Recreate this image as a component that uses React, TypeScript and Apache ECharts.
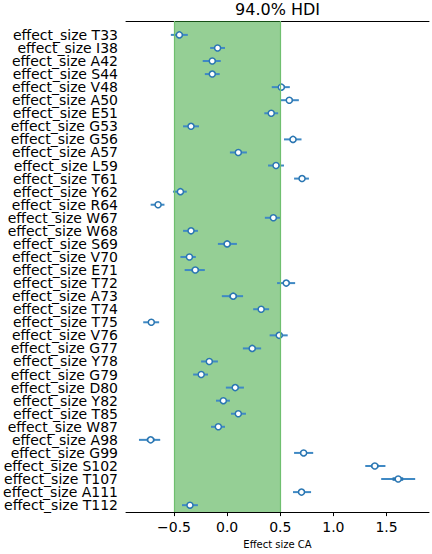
import React, { useEffect, useRef } from "react";
import * as echarts from "echarts";

const labels = [
  "effect_size T33", "effect_size I38", "effect_size A42", "effect_size S44", "effect_size V48",
  "effect_size A50", "effect_size E51", "effect_size G53", "effect_size G56", "effect_size A57",
  "effect_size L59", "effect_size T61", "effect_size Y62", "effect_size R64", "effect_size W67",
  "effect_size W68", "effect_size S69", "effect_size V70", "effect_size E71", "effect_size T72",
  "effect_size A73", "effect_size T74", "effect_size T75", "effect_size V76", "effect_size G77",
  "effect_size Y78", "effect_size G79", "effect_size D80", "effect_size Y82", "effect_size T85",
  "effect_size W87", "effect_size A98", "effect_size G99", "effect_size S102", "effect_size T107",
  "effect_size A111", "effect_size T112",
];

const means = [
  -0.45, -0.09, -0.14, -0.14, 0.51, 0.585, 0.415, -0.34, 0.62, 0.105,
  0.46, 0.705, -0.44, -0.65, 0.435, -0.34, 0.0, -0.355, -0.3, 0.556,
  0.057, 0.32, -0.714, 0.49, 0.236, -0.168, -0.244, 0.076, -0.036, 0.105,
  -0.083, -0.72, 0.72, 1.39, 1.61, 0.7, -0.35,
];

const hdiLow = [
  -0.53, -0.16, -0.23, -0.21, 0.42, 0.5, 0.35, -0.415, 0.535, 0.026,
  0.385, 0.63, -0.51, -0.72, 0.355, -0.415, -0.087, -0.44, -0.4, 0.47,
  -0.05, 0.245, -0.79, 0.4, 0.148, -0.245, -0.32, -0.012, -0.105, 0.036,
  -0.152, -0.83, 0.63, 1.3, 1.45, 0.62, -0.425,
];

const hdiHigh = [
  -0.37, -0.02, -0.06, -0.07, 0.59, 0.675, 0.48, -0.265, 0.7, 0.186,
  0.535, 0.77, -0.38, -0.59, 0.5, -0.275, 0.092, -0.295, -0.21, 0.64,
  0.15, 0.395, -0.64, 0.57, 0.32, -0.087, -0.18, 0.158, 0.026, 0.177,
  -0.02, -0.63, 0.81, 1.49, 1.77, 0.79, -0.275,
];

const q1 = [
  -0.48, -0.115, -0.17, -0.165, 0.48, 0.555, 0.39, -0.367, 0.59, 0.076,
  0.433, 0.68, -0.463, -0.673, 0.409, -0.365, -0.032, -0.381, -0.334, 0.526,
  0.021, 0.293, -0.741, 0.46, 0.205, -0.196, -0.269, 0.046, -0.06, 0.08,
  -0.107, -0.756, 0.688, 1.356, 1.557, 0.67, -0.377,
];

const q3 = [
  -0.42, -0.065, -0.11, -0.115, 0.54, 0.615, 0.44, -0.313, 0.65, 0.134,
  0.487, 0.73, -0.417, -0.627, 0.461, -0.315, 0.032, -0.329, -0.266, 0.586,
  0.093, 0.347, -0.687, 0.52, 0.267, -0.14, -0.219, 0.106, -0.012, 0.13,
  -0.059, -0.684, 0.752, 1.424, 1.657, 0.73, -0.323,
];

const xTicks = [-0.5, 0, 0.5, 1, 1.5];
const ropeLow = -0.5;
const ropeHigh = 0.5;

const FONT = "DejaVu Sans";

export default function App() {
  const ref = useRef<HTMLDivElement>(null);

  useEffect(() => {
    if (!ref.current) return;
    const chart = echarts.init(ref.current, null, { renderer: "svg" });
    const data = labels.map((_, i) => [i, means[i], hdiLow[i], hdiHigh[i], q1[i], q3[i]]);
    const evenIdx = labels.map((_, i) => i).filter((i) => i % 2 === 0);
    const oddIdx = labels.map((_, i) => i).filter((i) => i % 2 === 1);
    const xMin = -0.952;
    const xMax = 1.9;
    const yMin = -1.063;
    const yMax = 36.53;

    const yAxisFor = (vals: number[]) => ({
      type: "value",
      inverse: true,
      position: "left",
      offset: 0,
      min: yMin,
      max: yMax,
      axisLine: { show: false },
      axisTick: { show: false },
      splitLine: { show: false },
      axisLabel: {
        customValues: vals,
        showMinLabel: true,
        showMaxLabel: true,
        margin: 8,
        fontFamily: FONT,
        fontSize: 14,
        lineHeight: 13,
        color: "#000",
        formatter: (v: number) => labels[Math.round(v)] ?? "",
      },
    });

    chart.setOption({
      animation: false,
      backgroundColor: "#fff",
      title: {
        text: "94.0% HDI",
        left: 277.5,
        textAlign: "center",
        top: 1,
        padding: 0,
        textStyle: { fontFamily: FONT, fontSize: 16, fontWeight: "normal", color: "#000" },
      },
      grid: { left: 126, right: 3, top: 21, bottom: 38, containLabel: false },
      xAxis: [
        {
          type: "value",
          position: "bottom",
          min: xMin,
          max: xMax,
          name: "Effect size CA",
          nameLocation: "middle",
          nameGap: 24,
          nameTextStyle: { fontFamily: FONT, fontSize: 10, color: "#000" },
          axisLine: { show: true, onZero: false, lineStyle: { color: "#000", width: 1 } },
          axisTick: { show: true, length: 4, lineStyle: { color: "#000" }, customValues: xTicks },
          axisLabel: {
            show: true,
            customValues: xTicks,
            margin: 8,
            fontFamily: FONT,
            fontSize: 14,
            color: "#000",
            formatter: (v: number) => (v < 0 ? "\u2212" : "") + Math.abs(v).toFixed(1),
          },
          splitLine: { show: false },
        },
        {
          type: "value",
          position: "top",
          min: xMin,
          max: xMax,
          axisLine: { show: true, onZero: false, lineStyle: { color: "#000", width: 1 } },
          axisTick: { show: false },
          axisLabel: { show: false },
          splitLine: { show: false },
        },
      ],
      yAxis: [yAxisFor(evenIdx), yAxisFor(oddIdx)],
      series: [
        {
          type: "custom",
          xAxisIndex: 0,
          yAxisIndex: 0,
          data,
          encode: { x: [1, 2, 3], y: 0 },
          clip: false,
          renderItem: (params: any, api: any) => {
            const y = api.value(0);
            const m = api.coord([api.value(1), y]);
            const lo = api.coord([api.value(2), y]);
            const hi = api.coord([api.value(3), y]);
            const a = api.coord([api.value(4), y]);
            const b = api.coord([api.value(5), y]);
            return {
              type: "group",
              children: [
                {
                  type: "line",
                  shape: { x1: lo[0], y1: lo[1], x2: hi[0], y2: hi[1] },
                  style: { stroke: "#3f89c4", lineWidth: 2 },
                },
                {
                  type: "line",
                  shape: { x1: a[0], y1: a[1], x2: b[0], y2: b[1] },
                  style: { stroke: "#2a76b2", lineWidth: 3.5 },
                },
                {
                  type: "circle",
                  shape: { cx: m[0], cy: m[1], r: 3 },
                  style: { fill: "#fff", stroke: "#2a76b2", lineWidth: 1.5 },
                },
              ],
            };
          },
          markArea: {
            silent: true,
            itemStyle: { color: "rgba(44,160,44,0.5)" },
            data: [[{ xAxis: ropeLow }, { xAxis: ropeHigh }]],
          },
          markLine: {
            silent: true,
            symbol: "none",
            label: { show: false },
            lineStyle: { color: "#6fbf6f", width: 1.2, type: "solid" },
            data: [{ xAxis: ropeLow }, { xAxis: ropeHigh }],
          },
        },
      ],
    });

    return () => chart.dispose();
  }, []);

  return (
    <div
      ref={ref}
      style={{ position: "fixed", left: 0, top: 0, width: 432, height: 554, background: "#fff" }}
    />
  );
}
